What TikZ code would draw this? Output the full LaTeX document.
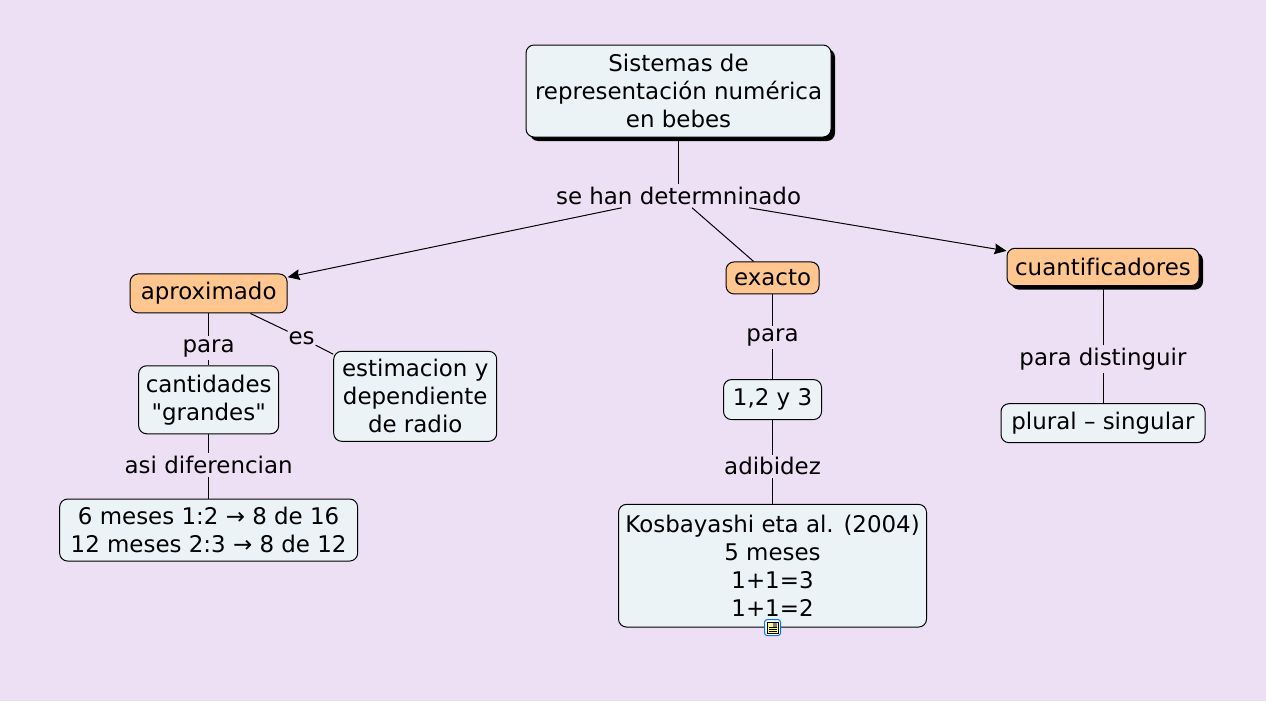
\documentclass[tikz,border=0pt]{standalone}
\usepackage{fontspec}
\setmainfont[Ligatures={TeXOff,NoCommon}]{DejaVu Sans}
\usepackage{tikz}
\usetikzlibrary{positioning,shadows,arrows.meta}
\definecolor{bgcol}{RGB}{237,224,245}
\definecolor{boxcol}{RGB}{235,243,246}
\definecolor{orangecol}{RGB}{255,199,143}
\tikzset{
  concept/.style={draw=black,line width=0.75pt,rounded corners=6pt,fill=boxcol,align=center,inner sep=0pt},
  topic/.style={concept,fill=orangecol},
  heavy/.style={drop shadow={shadow xshift=3pt,shadow yshift=-3pt,fill=black,opacity=1}},
  linklabel/.style={align=center,inner xsep=0.5pt,inner ysep=2pt},
  conn/.style={line width=0.75pt},
  arrowconn/.style={conn,-{Stealth[length=9pt,width=8pt,inset=1pt]}}
}
\begin{document}
\begin{tikzpicture}[x=1pt,y=1pt,font=\fontsize{17.2}{21}\selectfont]
  \fill[bgcol] (0,0) rectangle (949.5,-525.75);
  \useasboundingbox (0,0) rectangle (949.5,-525.75);

  \node[concept,heavy,minimum width=228.75pt,minimum height=69pt] (root) at (508.9,-68.25) {Sistemas de\\representación numérica\\en bebes};
  \node[linklabel,below=35pt of root] (han) {se han determninado};

  \node[topic,minimum width=117.75pt,minimum height=29.25pt,below left=49.25pt and 200.6pt of han] (aprox) {aproximado};
  \node[topic,minimum width=69.75pt,minimum height=24pt,below=40.25pt of han,xshift=70.5pt] (exacto) {exacto};
  \node[topic,heavy,minimum width=144pt,minimum height=28pt,below right=30pt and 153.4pt of han] (cuant) {cuantificadores};

  %aproximado
  \node[linklabel,below=17.25pt of aprox] (para1) {para};
  \node[concept,minimum width=105pt,minimum height=51pt,below=4pt of para1] (cant) {cantidades\\"grandes"};
  \node[linklabel,below=14.25pt of cant] (asi) {asi diferencian};
  \node[concept,minimum width=223.5pt,minimum height=46.5pt,below=16.25pt of asi] (meses) {6 meses 1:2 → 8 de 16\\12 meses 2:3 → 8 de 12};
  \node[linklabel,below right=11.25pt and 0pt of aprox] (es) {es};
  \node[concept,minimum width=122.25pt,minimum height=67.5pt,below right=2.5pt and 13.25pt of es] (estim) {estimacion y\\dependiente\\de radio};

  %exacto
  \node[linklabel,below=23.5pt of exacto] (para2) {para};
  \node[concept,minimum width=73.5pt,minimum height=30pt,below=22.35pt of para2] (tres) {1,2 y 3};
  \node[linklabel,below=25.9pt of tres] (adib) {adibidez};
  \node[concept,minimum width=231pt,minimum height=92pt,below=19.25pt of adib] (kos) {Kosbayashi eta al. (2004)\\5 meses\\1+1=3\\1+1=2};
  \node[draw=blue!55!cyan,fill=white,rounded corners=2pt,line width=0.75pt,minimum size=12pt,inner sep=0pt] (icon) at (kos.south) {};
  \fill[yellow!45] (icon.center) ++(-4,-4) rectangle ++(8,8);
  \draw[line width=0.5pt] (icon.center) ++(-4,-4) rectangle ++(8,8);
  \fill[gray] (icon.center) ++(0,0.6) rectangle ++(3.4,3);
  \foreach \yy in {-2.8,-1.4,0} \draw[line width=0.5pt] (icon.center) ++(-3,\yy) -- ++(6,0);

  %cuantificadores
  \node[linklabel,below=44pt of cuant] (para3) {para distinguir};
  \node[concept,minimum width=153pt,minimum height=29.25pt,below=22.75pt of para3] (plural) {plural – singular};

  \draw[conn] (root) -- (han);
  \draw[arrowconn] (han) -- (aprox);
  \draw[conn] (han) -- (exacto);
  \draw[arrowconn] (han) -- (cuant);

  \draw[conn] (aprox) -- (para1);
  \draw[conn] (para1) -- (cant);
  \draw[conn] (cant) -- (asi);
  \draw[conn] (asi) -- (meses);
  \draw[conn] (aprox) -- (es);
  \draw[conn] (es) -- (estim);

  \draw[conn] (exacto) -- (para2);
  \draw[conn] (para2) -- (tres);
  \draw[conn] (tres) -- (adib);
  \draw[conn] (adib) -- (kos);

  \draw[conn] (cuant) -- (para3);
  \draw[conn] (para3) -- (plural);
\end{tikzpicture}
\end{document}
